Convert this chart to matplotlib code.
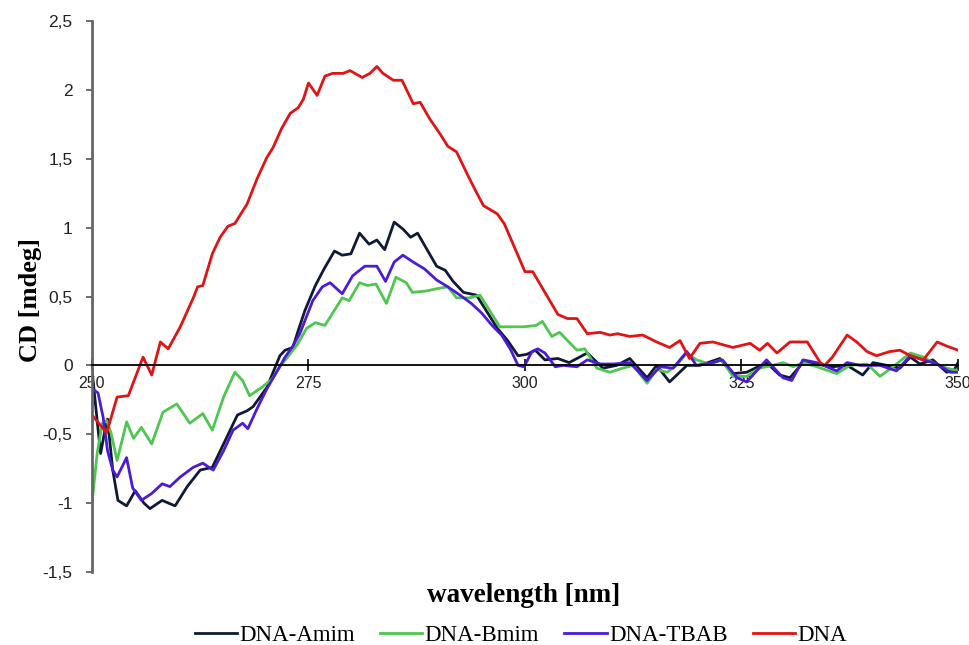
import numpy as np
import matplotlib.pyplot as plt

# CD spectra
wl_amim = [250, 250.6, 251.0, 251.5, 251.8, 252.4, 253.0, 254.0, 255.0, 256.0, 256.7, 258.1, 259.6, 261.0, 262.5,
           263.9, 265.2, 266.8, 267.9, 268.6, 270.2, 271.7, 272.3, 273.2, 273.8, 274.6, 275.8, 276.8, 278.0, 278.9,
           279.9, 280.9, 282.0, 282.9, 283.8, 284.9, 285.9, 286.8, 287.6, 288.7, 289.8, 290.8, 291.7, 292.9, 294.4,
           295.6, 296.8, 298.0, 299.2, 300.2, 301.2, 302.3, 303.8, 305.1, 307.2, 309.0, 310.6, 312.1, 314.1, 315.2,
           316.7, 318.7, 320.2, 322.5, 324.0, 325.6, 327.9, 329.4, 330.6, 332.1, 333.7, 335.5, 337.2, 339.0, 340.2,
           341.8, 343.3, 344.5, 345.6, 347.1, 348.7, 349.6, 350.0]
cd_amim = [-0.03, -0.40, -0.64, -0.47, -0.39, -0.76, -0.98, -1.02, -0.91, -1.00, -1.04, -0.98, -1.02, -0.88, -0.76,
           -0.74, -0.57, -0.36, -0.33, -0.30, -0.16, 0.07, 0.11, 0.13, 0.25, 0.40, 0.58, 0.70, 0.83, 0.80,
           0.81, 0.96, 0.88, 0.91, 0.84, 1.04, 0.99, 0.93, 0.96, 0.84, 0.72, 0.69, 0.61, 0.53, 0.51,
           0.39, 0.27, 0.18, 0.07, 0.08, 0.11, 0.04, 0.05, 0.02, 0.09, -0.02, 0.00, 0.05, -0.09, 0.00,
           -0.12, 0.00, 0.00, 0.05, -0.06, -0.05, 0.02, -0.07, -0.09, 0.02, 0.01, -0.01, 0.00, -0.07, 0.02,
           0.00, -0.02, 0.06, 0.01, 0.04, -0.05, -0.03, 0.02]

wl_bmim = [250, 250.6, 251.2, 251.7, 252.2, 252.9, 253.5, 254.0, 254.8, 255.7, 256.9, 258.2, 259.8, 261.3, 262.8,
           263.9, 265.2, 266.5, 267.4, 268.2, 269.6, 270.8, 271.7, 272.6, 273.7, 274.8, 275.8, 276.9, 278.2, 278.9,
           279.7, 280.9, 281.8, 282.8, 284.0, 285.1, 286.3, 287.0, 288.6, 290.1, 291.1, 292.1, 293.6, 294.8, 295.9,
           297.1, 298.3, 299.8, 301.3, 302.0, 303.1, 304.0, 306.0, 306.9, 308.3, 309.8, 311.3, 312.5, 314.1, 315.2,
           316.4, 317.5, 318.7, 319.8, 321.3, 322.7, 324.0, 325.6, 327.1, 328.6, 329.8, 331.0, 332.1, 333.7, 336.0,
           337.5, 339.5, 341.0, 342.5, 344.5, 346.0, 347.1, 348.7, 350.0]
cd_bmim = [-1.00, -0.64, -0.42, -0.40, -0.49, -0.69, -0.54, -0.41, -0.53, -0.45, -0.57, -0.34, -0.28, -0.42, -0.35,
           -0.47, -0.23, -0.05, -0.11, -0.22, -0.16, -0.10, -0.01, 0.06, 0.15, 0.27, 0.31, 0.29, 0.42, 0.49,
           0.47, 0.60, 0.58, 0.59, 0.45, 0.64, 0.60, 0.53, 0.54, 0.56, 0.57, 0.49, 0.49, 0.51, 0.40,
           0.28, 0.28, 0.28, 0.29, 0.32, 0.21, 0.24, 0.11, 0.12, -0.02, -0.05, -0.02, 0.00, -0.13, -0.03,
           -0.05, 0.00, 0.09, 0.04, 0.01, 0.04, -0.08, -0.08, -0.02, 0.00, 0.02, -0.01, 0.02, -0.01, -0.06,
           0.00, 0.01, -0.08, -0.01, 0.09, 0.06, 0.02, -0.02, -0.04]

wl_tbab = [250, 250.7, 251.3, 251.8, 252.4, 252.9, 254.0, 254.7, 255.7, 256.9, 258.1, 259.0, 260.2, 261.7, 262.8,
           264.0, 265.2, 266.3, 267.4, 268.0, 269.1, 270.2, 271.4, 272.3, 273.2, 274.0, 275.5, 276.6, 277.5, 278.9,
           280.1, 281.5, 282.9, 283.9, 284.9, 285.9, 287.1, 288.4, 289.8, 291.1, 292.5, 293.8, 295.0, 296.2, 297.3,
           298.3, 299.2, 299.9, 300.8, 301.5, 302.3, 303.5, 304.4, 306.0, 307.2, 308.7, 310.2, 312.1, 314.1, 315.6,
           317.1, 318.7, 319.8, 321.7, 322.8, 324.5, 325.6, 327.9, 329.8, 330.8, 332.1, 333.7, 336.0, 337.2, 338.7,
           341.0, 342.9, 344.5, 346.0, 347.6, 349.1, 350.0]
cd_tbab = [-0.17, -0.20, -0.38, -0.62, -0.76, -0.81, -0.67, -0.89, -0.98, -0.93, -0.86, -0.88, -0.81, -0.74, -0.71,
           -0.76, -0.62, -0.47, -0.42, -0.46, -0.31, -0.17, -0.04, 0.06, 0.14, 0.23, 0.47, 0.57, 0.60, 0.52,
           0.65, 0.72, 0.72, 0.61, 0.75, 0.80, 0.75, 0.70, 0.62, 0.57, 0.51, 0.45, 0.38, 0.29, 0.22,
           0.12, 0.00, -0.01, 0.10, 0.12, 0.09, -0.01, 0.00, -0.01, 0.04, 0.01, 0.01, 0.02, -0.11, -0.01,
           -0.02, 0.10, 0.00, 0.02, 0.04, -0.09, -0.12, 0.04, -0.09, -0.11, 0.04, 0.02, -0.04, 0.02, 0.00,
           0.00, -0.04, 0.07, 0.04, 0.01, -0.05, -0.05]

wl_dna = [250, 251.7, 252.9, 254.2, 255.9, 256.9, 257.9, 258.8, 260.2, 261.7, 262.2, 262.8, 263.9, 264.8, 265.7,
          266.5, 267.9, 269.1, 270.2, 270.9, 271.9, 272.9, 273.8, 274.4, 275.0, 276.0, 276.9, 277.8, 279.0, 279.8,
          281.2, 282.1, 282.9, 283.6, 284.8, 285.8, 287.1, 287.9, 289.0, 290.2, 291.1, 292.1, 293.4, 294.2, 295.2,
          296.8, 297.6, 298.7, 300.0, 300.9, 302.3, 303.8, 304.9, 306.0, 307.2, 308.7, 309.8, 310.7, 312.1, 313.6,
          315.2, 316.7, 317.9, 319.0, 320.2, 321.7, 324.0, 326.0, 327.1, 328.0, 329.1, 330.6, 332.6, 334.1, 334.6,
          335.5, 337.2, 338.3, 339.5, 340.6, 342.1, 343.3, 344.5, 346.0, 347.6, 348.7, 350.0]
cd_dna = [-0.36, -0.49, -0.23, -0.22, 0.06, -0.07, 0.17, 0.12, 0.28, 0.49, 0.57, 0.58, 0.81, 0.93, 1.01,
          1.03, 1.17, 1.36, 1.51, 1.58, 1.72, 1.83, 1.87, 1.93, 2.05, 1.96, 2.10, 2.12, 2.12, 2.14,
          2.09, 2.12, 2.17, 2.12, 2.07, 2.07, 1.90, 1.91, 1.79, 1.68, 1.59, 1.55, 1.38, 1.28, 1.16,
          1.10, 1.03, 0.87, 0.68, 0.68, 0.53, 0.37, 0.34, 0.34, 0.23, 0.24, 0.22, 0.23, 0.21, 0.22,
          0.17, 0.13, 0.18, 0.05, 0.16, 0.17, 0.13, 0.16, 0.11, 0.16, 0.09, 0.17, 0.17, 0.02, 0.00,
          0.06, 0.22, 0.17, 0.10, 0.07, 0.10, 0.11, 0.07, 0.04, 0.17, 0.14, 0.11]

series_names = ['DNA-Amim', 'DNA-Bmim', 'DNA-TBAB', 'DNA']
series_colors = ['#0e1a36', '#4fc64f', '#4b1bd6', '#e01414']

yticks = [-1.5, -1, -0.5, 0, 0.5, 1, 1.5, 2, 2.5]
ytick_labels = ['-1,5', '-1', '-0,5', '0', '0,5', '1', '1,5', '2', '2,5']
xticks = [250, 275, 300, 325, 350]

fig = plt.figure(figsize=(9.7, 6.45), dpi=100)
ax = fig.add_axes([0.0948, 0.1132, 0.8928, 0.8542])

all_wl = [wl_amim, wl_bmim, wl_tbab, wl_dna]
all_cd = [cd_amim, cd_bmim, cd_tbab, cd_dna]
for wl, cd, name, col in zip(all_wl, all_cd, series_names, series_colors):
    ax.plot(wl, cd, color=col, lw=2, label=name, solid_joinstyle='round')

ax.set_xlim(250, 350)
ax.set_ylim(-1.5, 2.5)
ax.set_axisbelow(True)

ax.spines['top'].set_visible(False)
ax.spines['right'].set_visible(False)
ax.spines['bottom'].set_position(('data', 0))
ax.spines['bottom'].set_color('black')
ax.spines['bottom'].set_linewidth(1.3)
ax.spines['left'].set_color('#666666')
ax.spines['left'].set_linewidth(2)

ax.set_yticks(yticks)
ax.set_yticklabels(ytick_labels, fontfamily='Liberation Sans', fontsize=12.5, color='#222222')
ax.set_xticks(xticks)
ax.set_xticklabels([str(t) for t in xticks], fontfamily='Liberation Sans', fontsize=11.5, color='#222222')
ax.tick_params(axis='y', direction='out', length=4, width=1.2, color='#555555', pad=10)
ax.tick_params(axis='x', direction='inout', length=8, width=1.2, color='black', pad=4)

fig.text(0.540, 0.077, 'wavelength [nm]', ha='center', va='center',
         fontfamily='Liberation Serif', fontweight='bold', fontsize=19.5)
fig.text(0.031, 0.535, 'CD [mdeg]', ha='center', va='center', rotation=90,
         fontfamily='Liberation Serif', fontweight='bold', fontsize=19)

fig.legend(loc='center', bbox_to_anchor=(0.537, 0.015), ncol=4, frameon=False,
           prop={'family': 'Liberation Serif', 'size': 16.5},
           handlelength=1.85, handletextpad=0.1, columnspacing=1.1)

fig.savefig('out.png', dpi=100)
